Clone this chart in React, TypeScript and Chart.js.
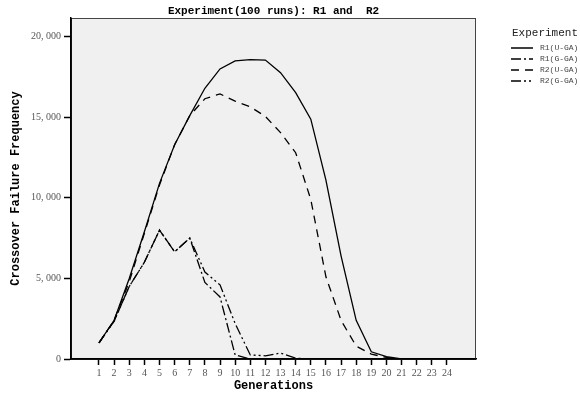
import React, { useEffect, useRef } from "react";
import { Chart, registerables } from "chart.js";

Chart.register(...registerables);

const generations = [1, 2, 3, 4, 5, 6, 7, 8, 9, 10, 11, 12, 13, 14, 15, 16, 17, 18, 19, 20, 21, 22, 23, 24];
const r1UGA = [1000, 2400, 5000, 7900, 10900, 13300, 15100, 16800, 18000, 18500, 18580, 18550, 17770, 16530, 14880, 11100, 6400, 2400, 450, 150, 0, 0, 0, 0];
const r1GGA = [1000, 2350, 4500, 6000, 8000, 6650, 7500, 4750, 3850, 250, 0, 0, 0, 0, 0, 0, 0, 0, 0, 0, 0, 0, 0, 0];
const r2UGA = [1000, 2400, 4800, 7800, 10800, 13300, 15100, 16150, 16450, 16000, 15650, 15050, 14050, 12800, 9900, 5100, 2400, 800, 300, 100, 0, 0, 0, 0];
const r2GGA = [1000, 2350, 4500, 6000, 8000, 6650, 7500, 5400, 4600, 2200, 250, 200, 370, 50, 0, 0, 0, 0, 0, 0, 0, 0, 0, 0];
const seriesNames = ["R1(U-GA)", "R1(G-GA)", "R2(U-GA)", "R2(G-GA)"];
const yTickValues = [0, 5000, 10000, 15000, 20000];
const yTickLabels = ["0", "5, 000", "10, 000", "15, 000", "20, 000"];
const chartTitle = "Experiment(100 runs): R1 and  R2";
const legendTitle = "Experiment";
const xAxisTitle = "Generations";
const yAxisTitle = "Crossover Failure Frequency";

const dashes = [[], [10, 3, 2, 3], [8, 6], [10, 3, 2, 3, 2, 3]];

const frame = {
  id: "frame",
  beforeDraw(chart: any) {
    const { ctx, chartArea: a } = chart;
    ctx.save();
    ctx.fillStyle = "#f0f0f0";
    ctx.fillRect(a.left, a.top, a.right - a.left, a.bottom - a.top);
    ctx.restore();
  },
  afterDraw(chart: any) {
    const { ctx, chartArea: a } = chart;
    ctx.save();
    ctx.strokeStyle = "#444";
    ctx.lineWidth = 1;
    ctx.strokeRect(a.left + 0.5, a.top + 0.5, a.right - a.left - 1, a.bottom - a.top);
    ctx.strokeStyle = "#000";
    ctx.lineWidth = 1.5;
    ctx.beginPath();
    ctx.moveTo(a.left, a.top);
    ctx.lineTo(a.left, a.bottom);
    ctx.lineTo(a.right, a.bottom);
    ctx.stroke();
    // title
    ctx.fillStyle = "#000";
    ctx.font = "bold 11px 'Liberation Mono'";
    ctx.textAlign = "center";
    ctx.textBaseline = "middle";
    ctx.fillText(chartTitle, (a.left + a.right) / 2, 11);
    // legend
    ctx.textAlign = "left";
    ctx.font = "11px 'Liberation Mono'";
    ctx.fillStyle = "#222";
    ctx.fillText(legendTitle, 512, 33);
    ctx.font = "8px 'Liberation Mono'";
    chart.data.datasets.forEach((ds: any, i: number) => {
      const y = 48 + i * 11;
      ctx.strokeStyle = "#000";
      ctx.lineWidth = 1.5;
      ctx.setLineDash(ds.borderDash || []);
      ctx.beginPath();
      ctx.moveTo(511, y);
      ctx.lineTo(533, y);
      ctx.stroke();
      ctx.setLineDash([]);
      ctx.fillStyle = "#444";
      ctx.fillText(ds.label, 540, y);
    });
    ctx.restore();
  },
};

export default function App() {
  const ref = useRef<HTMLCanvasElement | null>(null);
  useEffect(() => {
    if (!ref.current) return;
    const series = [r1UGA, r1GGA, r2UGA, r2GGA];
    const chart = new Chart(ref.current, {
      type: "line",
      data: {
        datasets: series.map((s, i) => ({
          label: seriesNames[i],
          data: generations.map((g, j) => ({ x: g, y: s[j] })),
          borderColor: "#000",
          borderWidth: 1.3,
          borderDash: dashes[i],
          pointRadius: 0,
          tension: 0,
          fill: false,
        })),
      },
      options: {
        animation: false,
        responsive: false,
        layout: { padding: { left: 0, right: 104, top: 18, bottom: 0 } },
        plugins: { legend: { display: false }, title: { display: false }, tooltip: { enabled: false } },
        scales: {
          x: {
            type: "linear",
            min: -0.85,
            max: 25.92,
            afterBuildTicks: (scale: any) => {
              scale.ticks = generations.map((v) => ({ value: v }));
            },
            afterFit: (scale: any) => {
              scale.height = 36;
            },
            ticks: {
              autoSkip: false,
              maxRotation: 0,
              padding: 2,
              color: "#555",
              font: { family: "'Liberation Serif'", size: 10 },
              callback: (v: any) => String(v),
            },
            grid: { drawOnChartArea: false, drawTicks: true, tickLength: 6, color: "#000", tickWidth: 1.5 },
            border: { display: true, color: "#000", width: 1.5 },
            title: {
              display: true,
              text: xAxisTitle,
              color: "#000",
              font: { family: "'Liberation Mono'", size: 12, weight: "bold" },
              padding: { top: 0, bottom: 2 },
            },
          },
          y: {
            type: "linear",
            min: 0,
            max: 21160,
            afterBuildTicks: (scale: any) => {
              scale.ticks = yTickValues.map((v) => ({ value: v }));
            },
            afterFit: (scale: any) => {
              scale.width = 71;
            },
            ticks: {
              padding: 3,
              color: "#555",
              font: { family: "'Liberation Serif'", size: 10 },
              callback: (v: any) => yTickLabels[yTickValues.indexOf(v)] ?? "",
            },
            grid: { drawOnChartArea: false, drawTicks: true, tickLength: 7, color: "#000", tickWidth: 1.5 },
            border: { display: true, color: "#000", width: 1.5 },
            title: {
              display: true,
              text: yAxisTitle,
              color: "#000",
              font: { family: "'Liberation Mono'", size: 12, weight: "bold" },
              padding: { top: 9, bottom: 0 },
            },
          },
        },
      },
      plugins: [frame],
    } as any);
    return () => chart.destroy();
  }, []);
  return (
    <div style={{ position: "absolute", left: 0, top: 0, width: 580, height: 395 }}>
      <canvas ref={ref} width={580} height={395} />
    </div>
  );
}
